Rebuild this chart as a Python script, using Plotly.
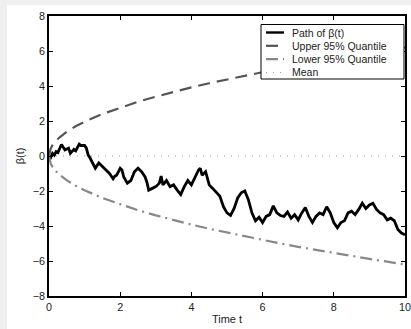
import plotly.graph_objects as go

# ---- data ----
path_t = [0, 0.05, 0.1, 0.15, 0.2, 0.25, 0.3, 0.35, 0.4, 0.45, 0.5, 0.55, 0.6, 0.65, 0.7, 0.75, 0.8, 0.85, 0.9, 0.95,
          1.0, 1.05, 1.1, 1.15, 1.2, 1.25, 1.3, 1.35, 1.4, 1.45, 1.5, 1.6, 1.7, 1.8, 1.85, 1.9, 2.0, 2.05, 2.1, 2.2,
          2.3, 2.4, 2.5, 2.6, 2.7, 2.75, 2.8, 2.9, 3.0, 3.1, 3.15, 3.2, 3.3, 3.4, 3.5, 3.6, 3.7, 3.8, 3.9, 4.0,
          4.1, 4.2, 4.25, 4.3, 4.4, 4.5, 4.6, 4.7, 4.8, 4.9, 5.0, 5.1, 5.2, 5.3, 5.4, 5.5, 5.6, 5.7, 5.8, 5.9,
          6.0, 6.1, 6.2, 6.3, 6.4, 6.5, 6.6, 6.7, 6.8, 6.9, 7.0, 7.1, 7.2, 7.3, 7.4, 7.5, 7.6, 7.7, 7.8, 7.9,
          8.0, 8.1, 8.2, 8.3, 8.4, 8.5, 8.6, 8.7, 8.8, 8.9, 9.0, 9.1, 9.2, 9.3, 9.4, 9.5, 9.6, 9.7, 9.8, 9.9, 10.0]
path_b = [-0.3, -0.05, 0.15, 0.05, 0.25, 0.2, 0.45, 0.66, 0.5, 0.35, 0.4, 0.45, 0.15, 0.3, 0.38, 0.3, 0.53, 0.68, 0.6, 0.62,
          0.6, 0.45, 0.05, -0.1, -0.3, -0.5, -0.7, -0.55, -0.4, -0.5, -0.6, -0.8, -1.0, -1.3, -1.15, -1.1, -0.7, -0.8, -1.2, -1.55,
          -1.4, -0.9, -0.7, -0.9, -1.2, -1.5, -1.95, -1.85, -1.75, -1.55, -1.15, -1.65, -1.4, -1.75, -1.65, -1.95, -2.2, -1.75, -1.4, -1.65,
          -1.2, -0.8, -0.7, -1.1, -0.9, -1.65, -1.85, -2.05, -2.3, -2.9, -3.25, -3.4, -3.0, -2.4, -2.1, -2.0, -2.5, -3.25, -3.7, -3.5,
          -3.8, -3.45, -3.35, -2.85, -3.25, -3.4, -3.45, -3.2, -3.55, -3.35, -3.65, -3.25, -2.95, -3.45, -3.8, -3.45, -3.25, -3.35, -2.9, -3.25,
          -3.8, -4.1, -3.8, -3.7, -3.25, -3.15, -3.35, -3.05, -2.7, -3.0, -2.8, -2.7, -3.05, -3.25, -3.35, -3.65, -3.55, -3.7, -4.2, -4.4, -4.5]

quant_t = [0, 0.05, 0.1, 0.2, 0.3, 0.5, 0.75, 1, 1.5, 2, 2.5, 3, 3.5, 4, 4.5, 5, 5.5, 6, 6.5, 7, 7.5, 8, 8.5, 9, 9.5, 10]
upper_q = [0, 0.44, 0.62, 0.88, 1.07, 1.39, 1.70, 1.96, 2.40, 2.77, 3.10, 3.39, 3.67, 3.92, 4.16, 4.38, 4.60, 4.80,
           5.00, 5.19, 5.37, 5.54, 5.71, 5.88, 6.04, 6.20]
lower_q = [0, -0.44, -0.62, -0.88, -1.07, -1.39, -1.70, -1.96, -2.40, -2.77, -3.10, -3.39, -3.67, -3.92, -4.16, -4.38,
           -4.60, -4.80, -5.00, -5.19, -5.37, -5.54, -5.71, -5.88, -6.04, -6.20]

mean_t = [0, 10]
mean_v = [0, 0]

x_ticks = [0, 2, 4, 6, 8, 10]
y_ticks = [-8, -6, -4, -2, 0, 2, 4, 6, 8]
tick_text_y = ["\u22128", "\u22126", "\u22124", "\u22122", "0", "2", "4", "6", "8"]

series_names = ["Path of \u03b2(t)", "Upper 95% Quantile", "Lower 95% Quantile", "Mean"]
series_colors = ["black", "#555555", "#888888", "#999999"]
series_widths = [2.8, 2.2, 2.2, 1]
series_dash = ["solid", "12px,7px", "12px,5px,2px,5px", "1px,6px"]

FONT = "Liberation Sans, Arial, Helvetica, sans-serif"
TXT = "#222222"

# figure geometry (pixels)
W, H = 411, 329
L, R, T, B = 49, 6, 16, 33
PW, PH = W - L - R, H - T - B


def px_x(p):
    return (p - L) / PW


def px_y(p):
    return (H - B - p) / PH


fig = go.Figure()
fig.add_trace(go.Scatter(x=path_t, y=path_b, mode="lines", name=series_names[0],
                         line=dict(color=series_colors[0], width=series_widths[0])))
fig.add_trace(go.Scatter(x=quant_t, y=upper_q, mode="lines", name=series_names[1],
                         line=dict(color=series_colors[1], width=series_widths[1], dash=series_dash[1])))
fig.add_trace(go.Scatter(x=quant_t, y=lower_q, mode="lines", name=series_names[2],
                         line=dict(color=series_colors[2], width=series_widths[2], dash=series_dash[2])))
fig.add_trace(go.Scatter(x=mean_t, y=mean_v, mode="lines", name=series_names[3],
                         line=dict(color=series_colors[3], width=series_widths[3], dash=series_dash[3])))

axis_common = dict(showgrid=False, zeroline=False, showline=True, linecolor="black", linewidth=1.5,
                   mirror="allticks", ticks="inside", ticklen=4, tickwidth=1, tickcolor="black",
                   automargin=False, ticklabeloverflow="allow",
                   tickfont=dict(family=FONT, size=10.8, color=TXT))

shapes = [
    # white page area inside the grey frame
    dict(type="rect", xref="paper", yref="paper", layer="below",
         x0=px_x(7), x1=px_x(W + 2), y0=px_y(H + 2), y1=px_y(5),
         fillcolor="white", line=dict(width=0)),
    # legend box
    dict(type="rect", xref="paper", yref="paper", layer="above",
         x0=px_x(261), x1=px_x(404), y0=px_y(79), y1=px_y(24.5),
         fillcolor="white", line=dict(color="black", width=1)),
]
annotations = []
row_y = [32.5, 45.8, 59.2, 72.4]
for name, col, wd, ds, ry in zip(series_names, series_colors, series_widths, series_dash, row_y):
    shapes.append(dict(type="line", xref="paper", yref="paper", layer="above",
                       x0=px_x(266), x1=px_x(284), y0=px_y(ry), y1=px_y(ry),
                       line=dict(color=col, width=min(wd, 2.4), dash=ds)))
    annotations.append(dict(text=name, xref="paper", yref="paper", x=px_x(290), y=px_y(ry),
                            xanchor="left", yanchor="middle", showarrow=False,
                            font=dict(family=FONT, size=10.5, color=TXT)))

fig.update_layout(
    width=W, height=H,
    margin=dict(l=L, r=R, t=T, b=B, autoexpand=False),
    paper_bgcolor="#efefef", plot_bgcolor="white",
    font=dict(family=FONT, size=11, color=TXT),
    showlegend=False,
    xaxis=dict(range=[0, 10], tickvals=x_ticks, ticktext=[str(v) for v in x_ticks],
               title=dict(text="Time t", font=dict(size=11), standoff=4), **axis_common),
    yaxis=dict(range=[-8, 8], tickvals=y_ticks, ticktext=tick_text_y,
               title=dict(text="\u03b2(t)", font=dict(size=11), standoff=6), **axis_common),
    shapes=shapes,
    annotations=annotations,
)

fig.write_html(
    "out.html",
    config={"displayModeBar": False, "responsive": False},
    post_script=("document.body.style.margin='0px';"
                 "document.body.style.overflow='hidden';"
                 "document.documentElement.style.overflow='hidden';"),
)
